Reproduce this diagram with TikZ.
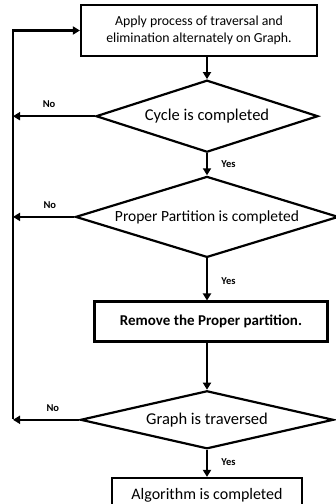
\documentclass[tikz,border=0pt]{standalone}
\usepackage{fontspec}
\setmainfont{Carlito}
\usetikzlibrary{positioning, arrows.meta, shapes.geometric}

\begin{document}
\begin{tikzpicture}[
    x=1pt, y=1pt,
    box/.style={draw, line width=2.2pt, rectangle, align=center, inner sep=2pt},
    cond/.style={draw, line width=2.2pt, diamond, inner sep=0pt, align=center, font=\fontsize{16.5}{18}\selectfont},
    arr/.style={-{Triangle[length=7pt, width=8pt]}, line width=2.2pt},
    lbl/.style={font=\bfseries\fontsize{10.5}{11}\selectfont}
]
    \useasboundingbox (0,0) rectangle (336,504);

    % Main flow
    \node[box, minimum width=236pt, minimum height=51pt, font=\fontsize{13.8}{17}\selectfont] (apply) at (199,473.5) {Apply process of traversal and\\elimination alternately on Graph.};
    \node[cond, aspect=3.1, minimum width=222pt, minimum height=72pt] (cycle) [below=22pt of apply, xshift=8pt] {Cycle is completed};
    \node[cond, aspect=3.25, minimum width=263pt, minimum height=81pt, font=\fontsize{15.5}{17}\selectfont] (part) [below=22pt of cycle] {Proper Partition is completed};
    \node[box, minimum width=233pt, minimum height=40pt, font=\bfseries\fontsize{15}{17}\selectfont] (remove) [below=42pt of part, xshift=4pt] {Remove the Proper partition.};
    \node[cond, aspect=4.36, minimum width=253pt, minimum height=58pt] (graph) [below=47pt of remove, xshift=-4pt] {Graph is traversed};
    \node[box, minimum width=190pt, minimum height=34pt, font=\fontsize{16}{18}\selectfont] (done) [below=27pt of graph] {Algorithm is completed};

    \draw[arr] (apply.south -| cycle.north) -- (cycle.north);
    \draw[arr] (cycle.south) -- node[lbl, right=10pt] {Yes} (part.north);
    \draw[arr] (part.south) -- node[lbl, right=10pt, pos=0.55] {Yes} (part.south |- remove.north);
    \draw[arr] (part.south |- remove.south) -- (graph.north);
    \draw[arr] (graph.south) -- node[lbl, right=10pt, pos=0.45] {Yes} (done.north);

    % Loop back on the left
    \coordinate (rail) at (13,0);
    \draw[arr] (cycle.west) -- node[lbl, above=4pt, pos=0.56] {No} (cycle.west -| rail);
    \draw[arr] (part.west) -- node[lbl, above=4pt, pos=0.4] {No} (part.west -| rail);
    \draw[arr] (graph.west) -- node[lbl, above=4pt, pos=0.4] {No} (graph.west -| rail);
    \draw[arr] ([yshift=1.1pt]graph.west -| rail) -- (apply.west -| rail) -- (apply.west);
\end{tikzpicture}
\end{document}
